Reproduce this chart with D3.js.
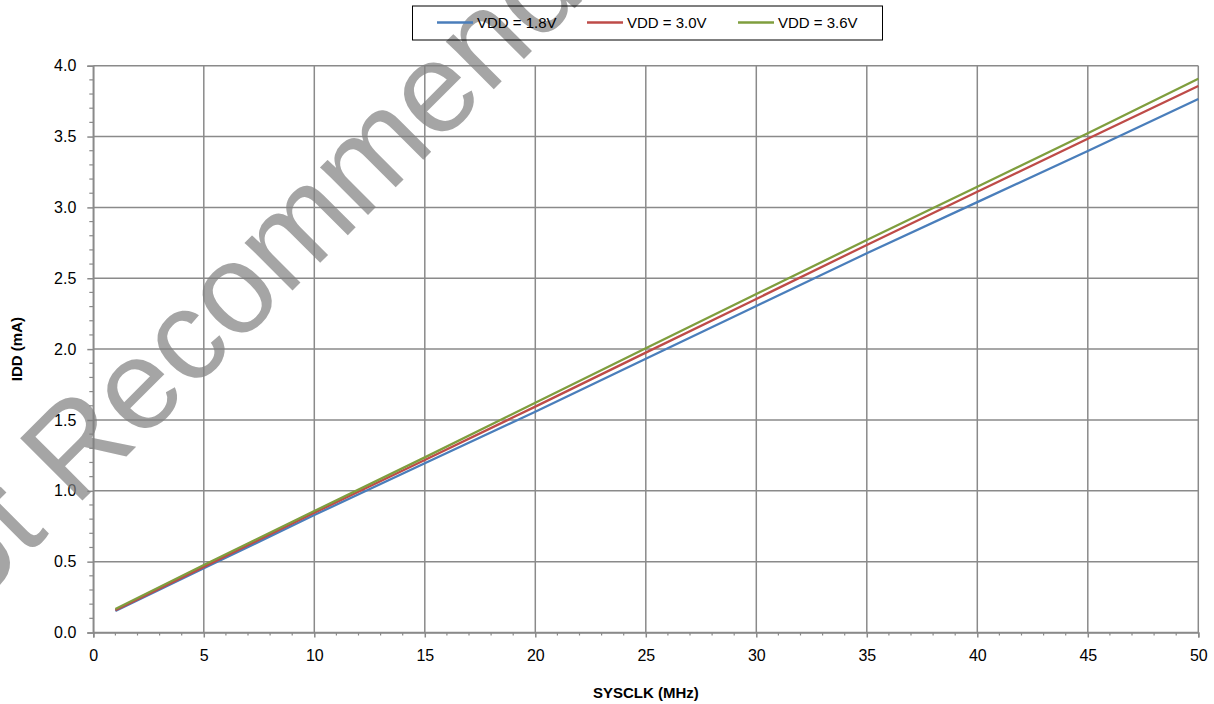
<!DOCTYPE html>
<html>
<head>
<meta charset="utf-8">
<script src="https://cdn.jsdelivr.net/npm/d3@7"></script>
<style>
  body { margin: 0; background: #fff; }
  svg { display: block; font-family: "Liberation Sans", Arial, sans-serif; }
</style>
</head>
<body>
<svg id="chart" width="1214" height="704"></svg>
<script>
// SYSCLK vs IDD, three supply voltages

const sysclk = [1, 5, 10, 15, 20, 25, 30, 35, 40, 45, 50];
const idd18 = [0.152, 0.453, 0.829, 1.194, 1.558, 1.932, 2.304, 2.676, 3.037, 3.398, 3.765];
const idd30 = [0.158, 0.463, 0.845, 1.217, 1.594, 1.975, 2.354, 2.735, 3.110, 3.485, 3.857];
const idd36 = [0.166, 0.476, 0.857, 1.236, 1.622, 2.006, 2.389, 2.770, 3.146, 3.523, 3.908];
const seriesNames = ["VDD = 1.8V", "VDD = 3.0V", "VDD = 3.6V"];
const seriesColors = ["#4a7ebb", "#be4b48", "#7f9e3e"];
const xTicks = [0, 5, 10, 15, 20, 25, 30, 35, 40, 45, 50];
const yTicks = [0, 0.5, 1, 1.5, 2, 2.5, 3, 3.5, 4];

const series = [idd18, idd30, idd36].map((vals, i) => ({
  name: seriesNames[i],
  color: seriesColors[i],
  values: vals.map((v, j) => ({ x: sysclk[j], y: v }))
}));

const svg = d3.select("#chart");
const margin = { top: 65.7, right: 15.7, bottom: 71.5, left: 93.3 };
const W = +svg.attr("width");
const H = +svg.attr("height");
const innerW = W - margin.left - margin.right;
const innerH = H - margin.top - margin.bottom;

const x = d3.scaleLinear().domain([0, 50]).range([0, innerW]);
const y = d3.scaleLinear().domain([0, 4]).range([innerH, 0]);

const g = svg.append("g").attr("transform", `translate(${margin.left},${margin.top})`);

// 1. grid
g.append("g")
  .selectAll("line")
  .data(yTicks)
  .join("line")
  .attr("x1", 0).attr("x2", innerW)
  .attr("y1", d => y(d)).attr("y2", d => y(d))
  .attr("stroke", "#8a8a8a").attr("stroke-width", 1.5);

g.append("g")
  .selectAll("line")
  .data(xTicks)
  .join("line")
  .attr("x1", d => x(d)).attr("x2", d => x(d))
  .attr("y1", 0).attr("y2", innerH)
  .attr("stroke", "#8a8a8a").attr("stroke-width", 1.5);

// 2. watermark over the grid
svg.append("text")
  .attr("transform", "translate(-91,674) rotate(-45)")
  .style("font-family", "'Liberation Sans', Arial, sans-serif")
  .style("font-size", "128px")
  .attr("fill", "#808080")
  .attr("opacity", 0.7)
  .text("Not Recommended");

// 3. axes
const minorY = d3.range(0, 4.001, 0.1).filter(v => Math.abs(v * 2 - Math.round(v * 2)) > 1e-6);
const minorX = d3.range(0, 51, 1).filter(v => v % 5 !== 0);

const yAxis = g.append("g")
  .call(d3.axisLeft(y).tickValues(yTicks).tickFormat(d3.format(".1f")).tickSize(6).tickPadding(11));
const xAxis = g.append("g")
  .attr("transform", `translate(0,${innerH})`)
  .call(d3.axisBottom(x).tickValues(xTicks).tickFormat(d3.format("d")).tickSize(5).tickPadding(12));

[yAxis, xAxis].forEach(a => {
  a.select(".domain").attr("stroke", "#8a8a8a").attr("stroke-width", 1.5);
  a.selectAll(".tick line").attr("stroke", "#8a8a8a").attr("stroke-width", 1.5);
  a.selectAll("text").style("font-size", "16px").attr("fill", "#000")
    .style("font-family", "'Liberation Sans', Arial, sans-serif");
});

g.append("g")
  .selectAll("line")
  .data(minorY)
  .join("line")
  .attr("x1", -4).attr("x2", 0)
  .attr("y1", d => y(d)).attr("y2", d => y(d))
  .attr("stroke", "#8a8a8a").attr("stroke-width", 1.2);

g.append("g")
  .selectAll("line")
  .data(minorX)
  .join("line")
  .attr("x1", d => x(d)).attr("x2", d => x(d))
  .attr("y1", innerH).attr("y2", innerH + 3)
  .attr("stroke", "#8a8a8a").attr("stroke-width", 1.2);

// 4. lines
const line = d3.line().x(d => x(d.x)).y(d => y(d.y));
g.selectAll("path.series")
  .data(series)
  .join("path")
  .attr("class", "series")
  .attr("d", d => line(d.values))
  .attr("fill", "none")
  .attr("stroke", d => d.color)
  .attr("stroke-width", 2.3);

// 5. axis titles
svg.append("text")
  .attr("x", margin.left + innerW / 2)
  .attr("y", 698)
  .attr("text-anchor", "middle")
  .style("font-size", "15px")
  .style("font-weight", "bold")
  .text("SYSCLK (MHz)");

svg.append("text")
  .attr("transform", "rotate(-90)")
  .attr("x", -(margin.top + innerH / 2))
  .attr("y", 21.5)
  .attr("text-anchor", "middle")
  .style("font-size", "15px")
  .style("font-weight", "bold")
  .text("IDD (mA)");

// 6. legend (box has no fill, the watermark shows through)
const legend = svg.append("g");
legend.append("rect")
  .attr("x", 412.5).attr("y", 6).attr("width", 470).attr("height", 34)
  .attr("fill", "none").attr("stroke", "#000").attr("stroke-width", 1);

const legendX = [437, 587, 738];
series.forEach((s, i) => {
  const lg = legend.append("g").attr("transform", `translate(${legendX[i]},22.5)`);
  lg.append("line").attr("x1", 0).attr("x2", 36).attr("stroke", s.color).attr("stroke-width", 2.3);
  lg.append("text").attr("x", 40).attr("y", 5.5)
    .style("font-size", "15px")
    .text(s.name);
});
</script>
</body>
</html>
